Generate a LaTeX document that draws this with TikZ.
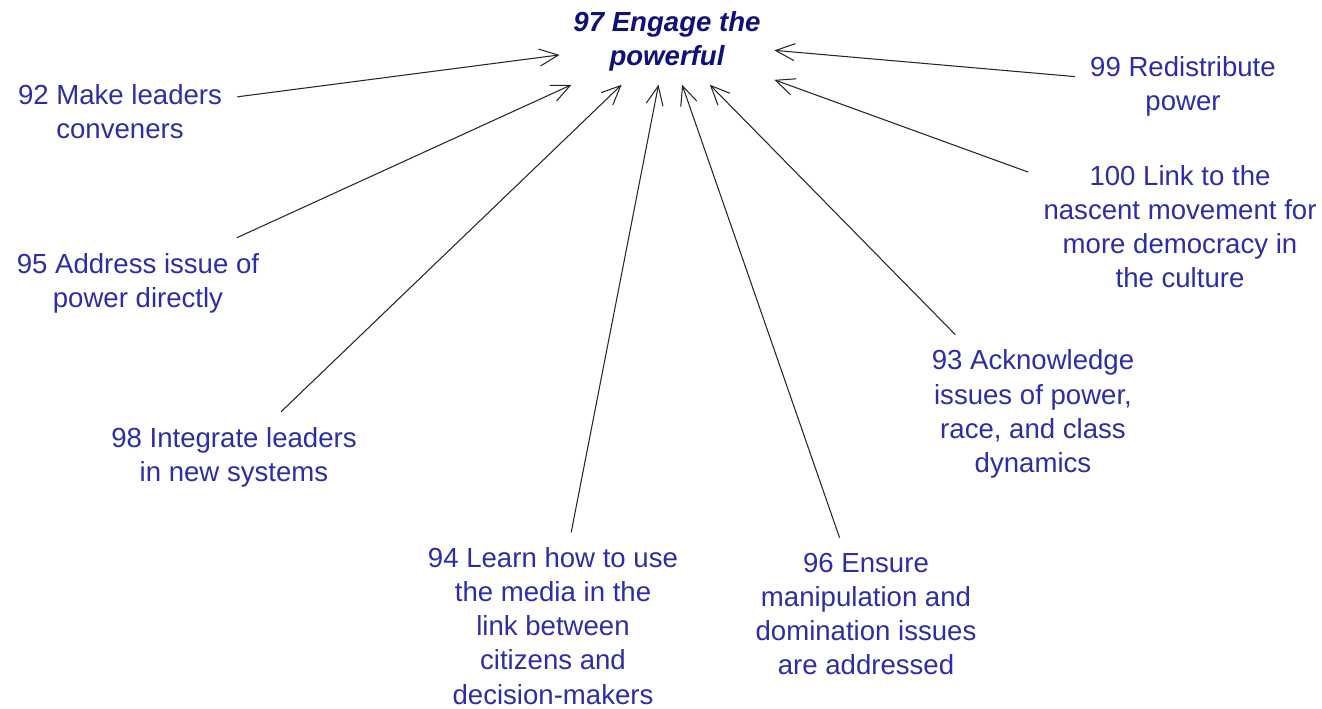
\documentclass[tikz,border=0pt]{standalone}
\usepackage{fontspec}
\setmainfont{Liberation Sans}
\usetikzlibrary{arrows.meta}
\definecolor{labelblue}{RGB}{45,45,165}
\definecolor{titleblue}{RGB}{15,15,125}

\begin{document}
\begin{tikzpicture}
  [auto,
  label/.style={align=center, text=labelblue, inner sep=0.3cm,
    font=\fontsize{15.7pt}{19.4pt}\selectfont},
  goal/.style={label, text=titleblue, inner sep=0.27cm,
    font=\fontsize{15.7pt}{19.4pt}\selectfont\bfseries\itshape},
  line/.style={draw, line width=0.6pt, black!85,
    -{Straight Barb[length=3.8mm,width=3.4mm]}}]
  \useasboundingbox (0,0) rectangle (26.44,-14.18);
  % centre
  \node [goal] (engage) at (13.34,-0.82) {97 Engage the\\powerful};
  % left side
  \node [label] (convene) at (2.40,-2.24) {92 Make leaders\\conveners};
  \node [label] (address) at (2.76,-5.66) {95 Address issue of\\power directly};
  \node [label] (integrate) at (4.68,-9.14) {98 Integrate leaders\\in new systems};
  % bottom
  \node [label] (media) at (11.06,-12.52) {94 Learn how to use\\the media in the\\link between\\citizens and\\decision-makers};
  \node [label] (ensure) at (17.32,-12.28) {96 Ensure\\manipulation and\\domination issues\\are addressed};
  % right side
  \node [label] (acknowledge) at (20.66,-8.28) {93 Acknowledge\\issues of power,\\race, and class\\dynamics};
  \node [label] (link) at (23.60,-4.54) {100 Link to the\\nascent movement for\\more democracy in\\the culture};
  \node [label] (redistribute) at (23.66,-1.72) {99 Redistribute\\power};
  \begin{scope}[every path/.style=line]
    \path (convene) -- (engage); \path (address) -- (engage);
    \path (integrate) -- (engage); \path (media) -- (engage);
    \path (ensure) -- (engage); \path (acknowledge) -- (engage);
    \path (link) -- (engage); \path (redistribute) -- (engage);
  \end{scope}
\end{tikzpicture}
\end{document}
